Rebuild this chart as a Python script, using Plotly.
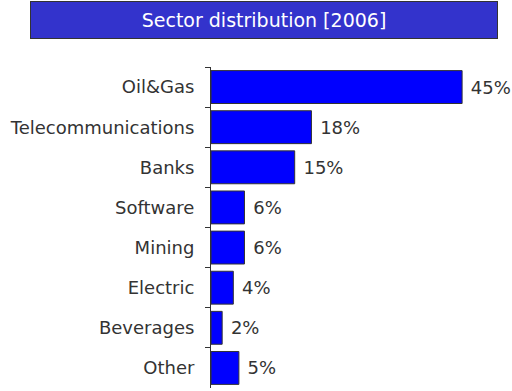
import plotly.graph_objects as go

categories = ["Oil&Gas", "Telecommunications", "Banks", "Software", "Mining", "Electric", "Beverages", "Other"]
values = [45, 18, 15, 6, 6, 4, 2, 5]
title_text = "Sector distribution [2006]"

W, H = 512, 391
L, R, T, B = 211, 22, 67, 3
pw, ph = W - L - R, H - T - B

fig = go.Figure(go.Bar(
    x=values, y=categories, orientation="h",
    marker=dict(color="#0000FF", line=dict(color="#333333", width=1)),
    text=[f" {v}%" for v in values], textposition="outside",
    textfont=dict(family="DejaVu Sans", size=18, color="#333333"),
    cliponaxis=False, hoverinfo="skip",
))

fig.update_layout(
    width=W, height=H, margin=dict(l=L, r=R, t=T, b=B, autoexpand=False),
    paper_bgcolor="white", plot_bgcolor="white",
    bargap=0.18, showlegend=False,
    font=dict(family="DejaVu Sans", size=18, color="#333333"),
    xaxis=dict(range=[0, 50], visible=False, automargin=False),
    yaxis=dict(autorange="reversed", showline=True, linecolor="#333333", linewidth=1,
               ticks="outside", tickson="boundaries", ticklen=5, tickcolor="#333333",
               ticklabelstandoff=12, showgrid=False, automargin=False,
               tickfont=dict(family="DejaVu Sans", size=18, color="#333333")),
    annotations=[dict(
        text=title_text, xref="paper", yref="paper",
        x=((31 + 497) / 2 - L) / pw, y=(H - B - 20) / ph,
        xanchor="center", yanchor="middle", showarrow=False,
        width=464, height=34, bgcolor="#3333CC", bordercolor="#333333", borderwidth=1,
        font=dict(family="DejaVu Sans", size=19, color="white"),
    )],
)

fig.write_html("out.html", config={"displayModeBar": False},
               post_script="document.body.style.margin='0';")
